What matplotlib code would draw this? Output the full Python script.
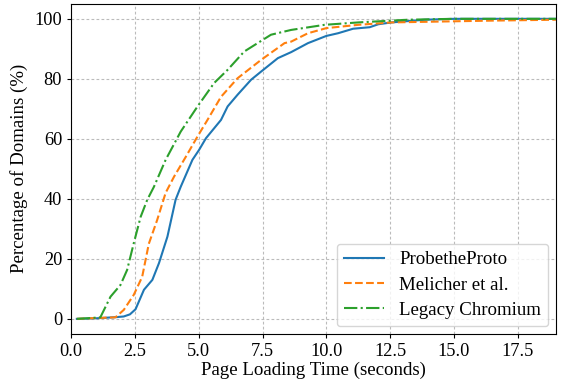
import matplotlib
matplotlib.use("Agg")
import matplotlib.pyplot as plt

plt.rcParams['font.family'] = ['Liberation Serif', 'DejaVu Serif']

# CDF points (seconds, percent)
probe_x = [0.22, 1.0, 1.8, 2.06, 2.3, 2.52, 2.85, 3.18, 3.44, 3.77, 4.09, 4.29, 4.75, 5.01,
           5.28, 5.87, 6.13, 6.52, 7.05, 7.44, 8.1, 8.62, 9.28, 10.0, 10.46, 11.05,
           11.7, 12.04, 12.56, 13.86, 15.0, 19.0]
probe_y = [0.0, 0.2, 0.6, 0.8, 1.5, 3.2, 9.7, 13.0, 18.6, 27.4, 39.7, 44.0, 53.0, 56.3,
           60.2, 66.3, 70.8, 74.7, 79.7, 82.4, 86.9, 88.9, 91.9, 94.3, 95.2, 96.7,
           97.2, 98.2, 98.8, 99.7, 100.0, 100.0]

melicher_x = [0.22, 1.0, 1.73, 2.06, 2.45, 2.78, 3.04, 3.37, 3.7, 4.03, 4.49, 4.95,
              5.34, 5.87, 6.52, 7.44, 8.36, 8.62, 9.28, 10.0, 11.25, 12.56, 14.5,
              16.5, 19.0]
melicher_y = [0.0, 0.3, 0.5, 3.0, 8.0, 14.0, 25.0, 33.0, 42.0, 47.4, 54.0, 60.8,
              66.3, 74.0, 80.2, 86.3, 91.9, 92.4, 95.2, 96.9, 98.0, 98.8, 99.1,
              99.4, 99.7]

legacy_x = [0.22, 0.8, 1.14, 1.54, 1.93, 2.19, 2.45, 2.72, 2.98, 3.24, 3.7, 4.29,
            4.95, 5.6, 6.13, 6.78, 7.83, 8.62, 9.93, 11.25, 13.2, 15.0, 19.0]
legacy_y = [0.0, 0.3, 0.5, 7.4, 11.3, 16.3, 25.2, 34.0, 39.7, 44.0, 53.0, 62.4,
            70.8, 78.6, 83.0, 89.1, 94.7, 96.3, 98.0, 98.8, 99.7, 100.0, 100.0]

labels = ['ProbetheProto', 'Melicher et al.', 'Legacy Chromium']
xticks = [0.0, 2.5, 5.0, 7.5, 10.0, 12.5, 15.0, 17.5]
yticks = [0, 20, 40, 60, 80, 100]

fig = plt.figure(figsize=(5.61, 3.82), dpi=100)
ax = fig.add_axes([0.127, 0.126, 0.864, 0.864])

ax.plot(probe_x, probe_y, color='#1f77b4', linestyle='-', lw=1.5, label=labels[0])
ax.plot(melicher_x, melicher_y, color='#ff7f0e', linestyle='--', lw=1.5, label=labels[1])
ax.plot(legacy_x, legacy_y, color='#2ca02c', linestyle='-.', lw=1.5, label=labels[2])

ax.set_xlim(0, 19)
ax.set_ylim(-5, 105)
ax.set_xticks(xticks)
ax.set_yticks(yticks)
ax.tick_params(labelsize=13.2, length=3)
ax.grid(True, linestyle=(0, (2.5, 2)), color='#bbbbbb', lw=0.8)
ax.set_xlabel('Page Loading Time (seconds)', fontsize=13.6, labelpad=1)
ax.set_ylabel('Percentage of Domains (%)', fontsize=13.6, labelpad=5)
ax.legend(loc='lower right', fontsize=13.6, handlelength=2.1, labelspacing=0.42,
          borderaxespad=0.4)

fig.savefig('out.png', dpi=100)
